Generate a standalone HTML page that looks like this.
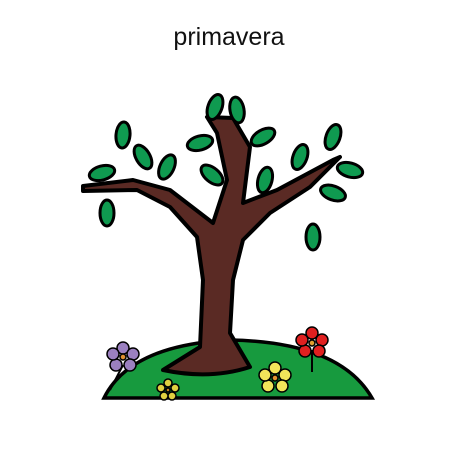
<!DOCTYPE html>
<html><head><meta charset="utf-8"><style>
html,body{margin:0;padding:0;background:#fff;width:460px;height:460px;overflow:hidden}
svg{display:block}
</style></head><body>
<svg width="460" height="460" viewBox="0 0 460 460">
<text x="229" y="45" text-anchor="middle" font-family="Liberation Sans, sans-serif" font-size="25" fill="#111">primavera</text>
<path d="M104,398 Q130,345 230,340 Q340,342 372,398 Z" fill="#179a3e" stroke="#000" stroke-width="3.5"/>
<path d="M163,370 L200,347 L203,280 L197,237 L170,207 L137,190 L83,191 L83,186 L133,180 L170,190 L213,223 L227,180 L217,133 L207,117 L233,118 L250,147 L243,203 L277,190 L333,160 L340,157 L310,187 L270,213 L243,240 L233,280 L230,333 L250,367 Q210,380 163,370 Z" fill="#5a2a24" stroke="#000" stroke-width="4" stroke-linejoin="round"/>
<g fill="#0f9a50" stroke="#000" stroke-width="3">
<ellipse cx="123" cy="135" rx="7" ry="13" transform="rotate(5 123 135)"/>
<ellipse cx="143" cy="157" rx="7" ry="13" transform="rotate(-30 143 157)"/>
<ellipse cx="167" cy="167" rx="7" ry="13" transform="rotate(25 167 167)"/>
<ellipse cx="102" cy="173" rx="7" ry="13" transform="rotate(75 102 173)"/>
<ellipse cx="107" cy="213" rx="7" ry="13" transform="rotate(0 107 213)"/>
<ellipse cx="200" cy="143" rx="7" ry="13" transform="rotate(75 200 143)"/>
<ellipse cx="215" cy="107" rx="7" ry="13" transform="rotate(20 215 107)"/>
<ellipse cx="237" cy="110" rx="7" ry="13" transform="rotate(-10 237 110)"/>
<ellipse cx="263" cy="137" rx="7" ry="13" transform="rotate(60 263 137)"/>
<ellipse cx="212" cy="175" rx="7" ry="13" transform="rotate(-50 212 175)"/>
<ellipse cx="265" cy="180" rx="7" ry="13" transform="rotate(15 265 180)"/>
<ellipse cx="300" cy="157" rx="7" ry="13" transform="rotate(20 300 157)"/>
<ellipse cx="333" cy="137" rx="7" ry="13" transform="rotate(20 333 137)"/>
<ellipse cx="350" cy="170" rx="7" ry="13" transform="rotate(-75 350 170)"/>
<ellipse cx="333" cy="193" rx="7" ry="13" transform="rotate(-70 333 193)"/>
<ellipse cx="313" cy="237" rx="7" ry="13" transform="rotate(0 313 237)"/>
</g>
<line x1="312" y1="350" x2="312" y2="372" stroke="#000" stroke-width="2"/>
<line x1="123" y1="365" x2="110" y2="390" stroke="#000" stroke-width="2"/>
<g stroke="#000" stroke-width="1.5">
<g fill="#9b80c0">
<circle cx="123" cy="348" r="6"/><circle cx="133" cy="354" r="6"/><circle cx="130" cy="365" r="6"/><circle cx="116" cy="365" r="6"/><circle cx="113" cy="354" r="6"/>
<circle cx="123" cy="357" r="3" fill="#e09030"/></g>
<g fill="#e0d040">
<circle cx="168" cy="383" r="4"/><circle cx="175" cy="388" r="4"/><circle cx="172" cy="396" r="4"/><circle cx="164" cy="396" r="4"/><circle cx="161" cy="388" r="4"/>
<circle cx="168" cy="390" r="2" fill="#c08020"/></g>
<g fill="#f2e45a">
<circle cx="275" cy="368" r="6"/><circle cx="285" cy="375" r="6"/><circle cx="282" cy="386" r="6"/><circle cx="268" cy="386" r="6"/><circle cx="265" cy="375" r="6"/>
<circle cx="275" cy="378" r="3" fill="#e09030"/></g>
<g fill="#e02020">
<circle cx="312" cy="333" r="6"/><circle cx="322" cy="340" r="6"/><circle cx="319" cy="351" r="6"/><circle cx="305" cy="351" r="6"/><circle cx="302" cy="340" r="6"/>
<circle cx="312" cy="343" r="3" fill="#e0a030"/></g>
</g>
</svg>
</body></html>
